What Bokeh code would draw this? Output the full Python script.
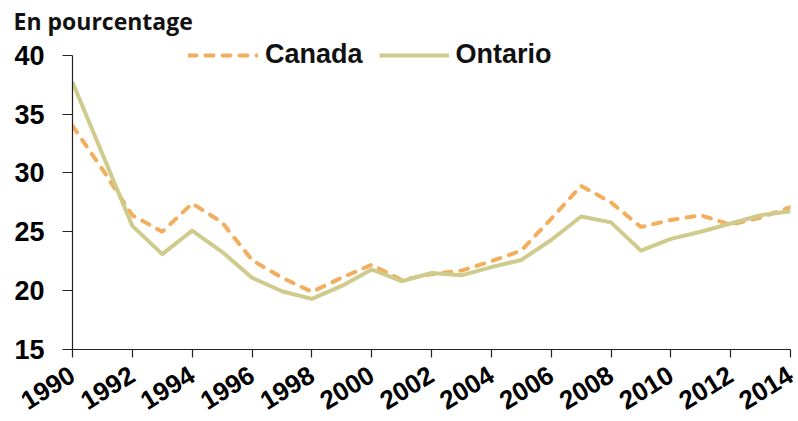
from bokeh.plotting import figure
from bokeh.models import Range1d, FixedTicker, Legend, LegendItem
from bokeh.embed import file_html
from bokeh.resources import INLINE

years = list(range(1990, 2015))
canada = [34.0, 30.3, 26.4, 25.0, 27.4, 25.8, 22.6, 21.1, 19.9, 21.1, 22.2, 20.9,
          21.4, 21.7, 22.5, 23.4, 26.1, 28.9, 27.5, 25.4, 26.0, 26.4, 25.6, 26.2, 27.1]
ontario = [37.7, 31.6, 25.5, 23.1, 25.1, 23.3, 21.1, 19.95, 19.3, 20.4, 21.8, 20.8,
           21.5, 21.3, 22.0, 22.6, 24.3, 26.3, 25.8, 23.4, 24.4, 25.0, 25.7, 26.4, 26.75]
x_ticks = list(range(1990, 2015, 2))
y_ticks = [15, 20, 25, 30, 35, 40]
title_text = "En pourcentage"
series_names = ["Canada", "Ontario"]

p = figure(width=798, height=421, output_backend="svg", toolbar_location=None,
           x_range=Range1d(1990, 2014), y_range=Range1d(15, 41.5),
           min_border_left=72, min_border_right=8, min_border_top=37, min_border_bottom=69)
p.outline_line_color = None
p.xgrid.visible = False
p.ygrid.visible = False

p.title.text = title_text
p.title.text_font = "Open Sans"
p.title.text_font_style = "bold"
p.title.text_font_size = "23px"
p.title.text_color = "#111111"
p.title.align = "left"
p.title.offset = -59
p.title.standoff = 2

r1 = p.line(years, canada, line_color="#F2AE5C", line_width=4, line_dash="8 9", line_cap="round")
r2 = p.line(years, ontario, line_color="#CFCB8C", line_width=4, line_join="round")

for ax in (p.xaxis[0], p.yaxis[0]):
    ax.axis_line_color = "#222222"
    ax.axis_line_width = 1.2
    ax.major_tick_line_color = "#222222"
    ax.major_tick_line_width = 1.2
    ax.minor_tick_line_color = None
    ax.major_tick_in = 0
    ax.major_label_text_font = "Liberation Sans"
    ax.major_label_text_font_style = "bold"
    ax.major_label_text_color = "#000000"

p.yaxis.ticker = FixedTicker(ticks=y_ticks)
p.yaxis.bounds = (15, 40)
p.yaxis.major_tick_out = 10
p.yaxis.major_label_text_font_size = "27px"
p.yaxis.major_label_standoff = 18

p.xaxis.ticker = FixedTicker(ticks=x_ticks)
p.xaxis.major_tick_out = 8
p.xaxis.major_label_text_font_size = "26px"
p.xaxis.major_label_orientation = 0.55
p.xaxis.major_label_standoff = 15

legend = Legend(items=[LegendItem(label=series_names[0], renderers=[r1]),
                       LegendItem(label=series_names[1], renderers=[r2])],
                orientation="horizontal", location=(116, 279),
                padding=0, margin=0, spacing=16, glyph_width=70, glyph_height=30,
                label_standoff=7, border_line_alpha=0, background_fill_alpha=0,
                label_text_font="Liberation Sans", label_text_font_style="bold",
                label_text_font_size="27px", label_text_color="#111111")
p.add_layout(legend, "center")

open("out.html", "w").write(file_html(p, INLINE))
